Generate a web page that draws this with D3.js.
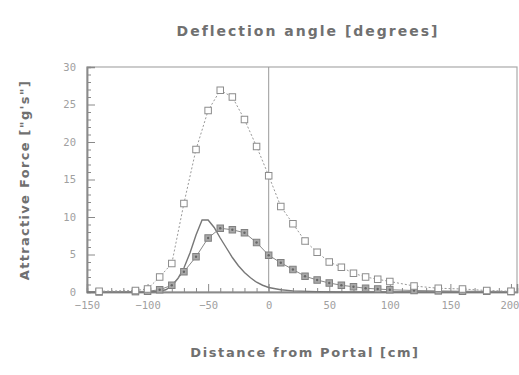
<!DOCTYPE html>
<html><head><meta charset="utf-8">
<script src="https://cdn.jsdelivr.net/npm/d3@7"></script>
<style>
html,body{margin:0;padding:0;background:#fff;}
svg{display:block;}
text{font-family:"DejaVu Sans",sans-serif;}
</style></head>
<body><svg id="c" width="519" height="375"></svg>
<script>
// Open-square series (upper curve)
const openX = [-140,-110,-100,-90,-80,-70,-60,-50,-40,-30,-20,-10,0,10,20,30,40,50,60,70,80,90,100,120,140,160,180,200];
const openY = [0.1,0.2,0.4,2.0,3.8,11.8,19.0,24.2,26.9,26.0,23.0,19.4,15.5,11.4,9.1,6.8,5.3,4.0,3.3,2.5,2.0,1.7,1.4,0.8,0.5,0.4,0.2,0.1];
// Filled-square series (middle curve)
const filledX = [-140,-110,-100,-90,-80,-70,-60,-50,-40,-30,-20,-10,0,10,20,30,40,50,60,70,80,90,100,120,140,160,180,200];
const filledY = [0,0.05,0.1,0.3,0.9,2.7,4.7,7.2,8.5,8.3,7.9,6.6,4.9,3.9,3.0,2.1,1.6,1.2,0.9,0.7,0.5,0.4,0.3,0.2,0.15,0.1,0.1,0.05];
// Solid line (no markers)
const lineX = [-150,-100,-90,-85,-80,-75,-70,-65,-60,-55,-50,-45,-40,-35,-30,-25,-20,-15,-10,-5,0,10,20,40,60,200];
const lineY = [0,0,0.1,0.3,0.8,1.8,3.2,5.2,7.6,9.6,9.6,8.6,7.2,5.9,4.6,3.5,2.6,1.9,1.3,0.9,0.6,0.3,0.15,0.05,0,0];
const xTicks = [-150,-100,-50,0,50,100,150,200];
const yTicks = [0,5,10,15,20,25,30];
const titleText = "Deflection angle [degrees]";
const xLabel = "Distance from Portal [cm]";
const yLabel = "Attractive Force [\"g's\"]";

const svg = d3.select("#c");
const pL = 87, pR = 517, pT = 67, pB = 292;
const x = d3.scaleLinear().domain([-150, 205]).range([pL, pR]);
const y = d3.scaleLinear().domain([0, 30]).range([pB, pT]);
const axisCol = "#8a8a8a", textCol = "#a0a0a0";

// frame
svg.append("rect").attr("x", pL).attr("y", pT).attr("width", pR-pL).attr("height", pB-pT)
  .attr("fill","none").attr("stroke", "#aaa").attr("stroke-width", 1.2);
// vertical zero line
svg.append("line").attr("x1", x(0)).attr("x2", x(0)).attr("y1", pT).attr("y2", pB)
  .attr("stroke", "#999").attr("stroke-width", 1);

// y axis (ticks inward)
const yAxis = d3.axisLeft(y).tickValues(yTicks).tickSize(-8).tickPadding(11).tickFormat(d3.format("d"));
const yMinor = d3.axisLeft(y).tickValues(d3.range(0, 31, 1).filter(v => v % 5)).tickSize(-4).tickFormat("");
svg.append("g").attr("transform", `translate(${pL},0)`).call(yAxis);
svg.append("g").attr("transform", `translate(${pL},0)`).call(yMinor);
// x axis (ticks inward)
const xAxis = d3.axisBottom(x).tickValues(xTicks).tickSize(-8).tickPadding(10).tickFormat(d3.format("d"));
const xMinor = d3.axisBottom(x).tickValues(d3.range(-150, 201, 10).filter(v => v % 50)).tickSize(-4).tickFormat("");
const gx = svg.append("g").attr("transform", `translate(0,${pB})`).call(xAxis);
svg.append("g").attr("transform", `translate(0,${pB})`).call(xMinor);
svg.selectAll(".domain").attr("stroke", axisCol).attr("stroke-width", 1.5);
svg.selectAll(".tick line").attr("stroke", axisCol);
svg.selectAll(".tick text").attr("fill", textCol).attr("font-size", 10.5).style("font-family", "'DejaVu Sans Mono', monospace");
// keep the last x label inside the window
gx.selectAll(".tick text").filter(d => d === 200).attr("text-anchor", "end").attr("dx", 8);

const line = d3.line().x(d => x(d[0])).y(d => y(d[1]));
const openData = openX.map((v,i)=>[v, openY[i]]);
const filledData = filledX.map((v,i)=>[v, filledY[i]]);
const lineData = lineX.map((v,i)=>[v, lineY[i]]);

svg.append("path").datum(lineData).attr("d", line).attr("fill","none").attr("stroke","#777").attr("stroke-width",1.4);
svg.append("path").datum(filledData).attr("d", line).attr("fill","none").attr("stroke","#888").attr("stroke-width",1);
svg.append("path").datum(openData).attr("d", line).attr("fill","none").attr("stroke","#999").attr("stroke-width",1).attr("stroke-dasharray","2,2");

const s = 6.5;
svg.append("g").selectAll("rect").data(filledData).join("rect")
  .attr("x", d => x(d[0]) - s/2).attr("y", d => y(d[1]) - s/2).attr("width", s).attr("height", s)
  .attr("fill", "#a8a8a8").attr("stroke", "#808080").attr("stroke-width", 1);
svg.append("g").selectAll("circle").data(filledData).join("circle")
  .attr("cx", d => x(d[0])).attr("cy", d => y(d[1])).attr("r", 1.2).attr("fill", "#666");
svg.append("g").selectAll("rect").data(openData).join("rect")
  .attr("x", d => x(d[0]) - s/2).attr("y", d => y(d[1]) - s/2).attr("width", s).attr("height", s)
  .attr("fill", "#fff").attr("stroke", "#8c8c8c").attr("stroke-width", 1);

// titles
svg.append("text").attr("x", 308).attr("y", 36).attr("text-anchor","middle")
  .attr("font-size", 14).attr("font-weight","bold").attr("fill","#707070").attr("letter-spacing", 2).text(titleText);
svg.append("text").attr("x", 305).attr("y", 357).attr("text-anchor","middle")
  .attr("font-size", 13).attr("font-weight","bold").attr("fill","#707070").attr("letter-spacing", 1.6).text(xLabel);
svg.append("text").attr("transform","translate(29,180) rotate(-90)").attr("text-anchor","middle")
  .attr("font-size", 13).attr("font-weight","bold").attr("fill","#707070").attr("letter-spacing", 1.3).text(yLabel);
</script></body></html>
